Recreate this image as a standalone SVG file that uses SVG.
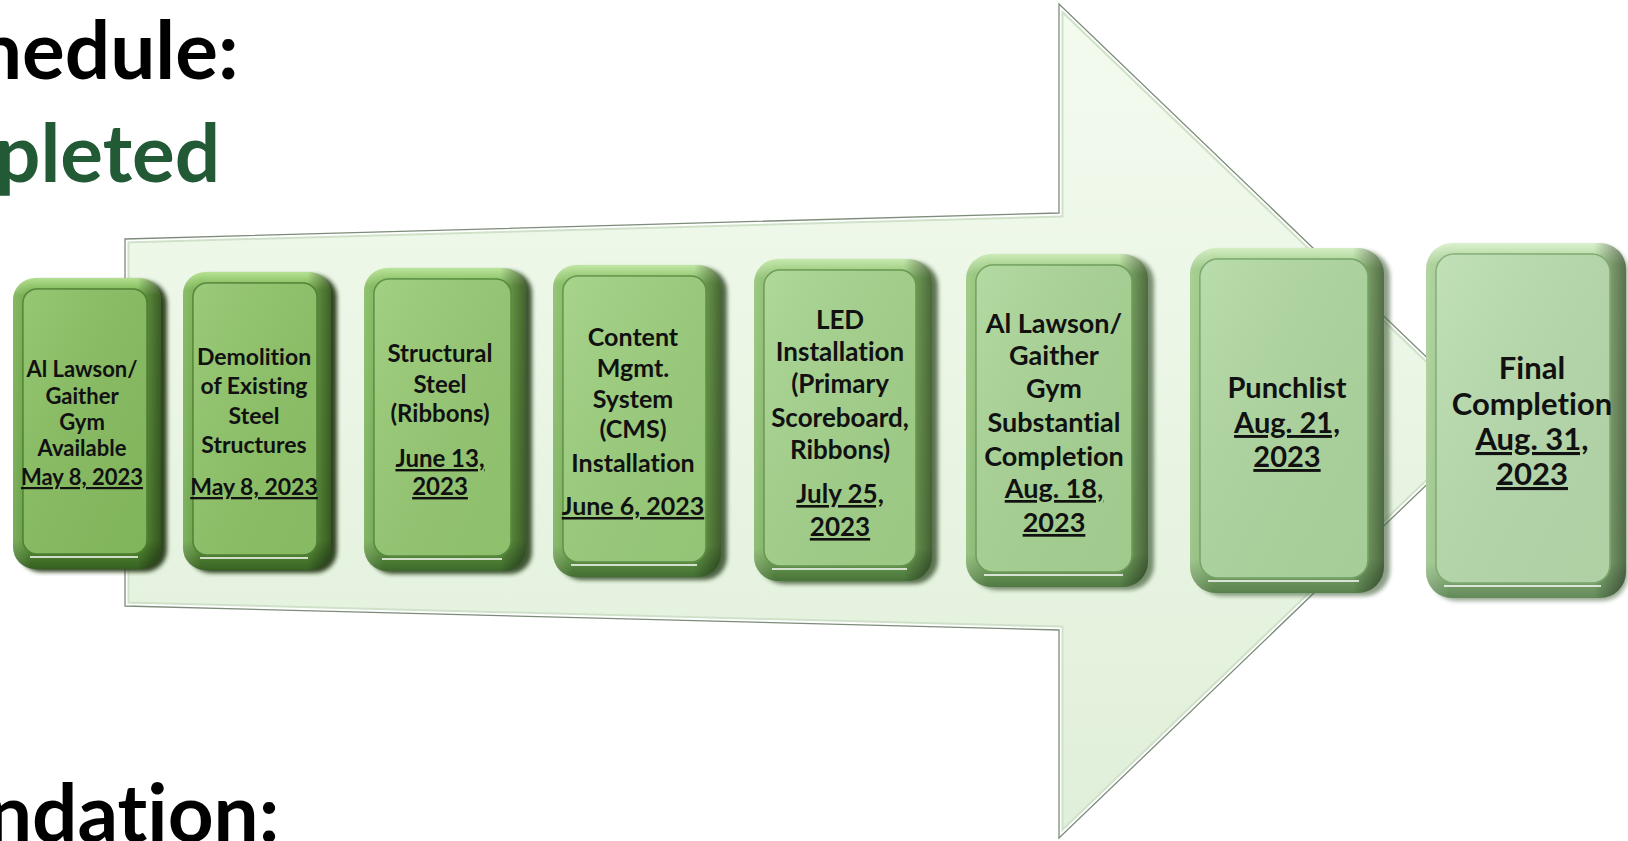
<svg xmlns="http://www.w3.org/2000/svg" width="1628" height="841" viewBox="0 0 1628 841">
<style>
text{font-variant-ligatures:none;font-feature-settings:"liga" 0,"clig" 0,"dlig" 0}
.title{font-family:Lato,"Liberation Sans",sans-serif;font-weight:700;font-size:80px}
.t{font-family:Lato,"Liberation Sans",sans-serif;font-weight:700;fill:#111;text-anchor:middle}
.u{text-decoration:underline}
.shade{fill:url(#shadeH)}
.hl{fill:none;stroke:#ffffff;stroke-opacity:.75;stroke-width:2}
</style>
<defs>
<linearGradient id="arrowFill" x1="0" y1="0" x2="0" y2="1">
<stop offset="0" stop-color="#f3fbef"/><stop offset="1" stop-color="#e0efd9"/>
</linearGradient>
<linearGradient id="shadeH" x1="0" y1="0" x2="1" y2="0">
<stop offset="0" stop-color="#ffffff" stop-opacity=".18"/><stop offset=".12" stop-color="#ffffff" stop-opacity="0"/><stop offset=".84" stop-color="#000000" stop-opacity="0"/><stop offset="1" stop-color="#000000" stop-opacity=".45"/>
</linearGradient>
<linearGradient id="faceShade" x1="0" y1="0" x2="1" y2="1">
<stop offset="0" stop-color="#ffffff" stop-opacity=".12"/><stop offset="1" stop-color="#000000" stop-opacity=".05"/>
</linearGradient>
<linearGradient id="r1" x1="0" y1="0" x2="0" y2="1"><stop offset="0" stop-color="#b3e08f"/><stop offset=".06" stop-color="#6ea946"/><stop offset=".9" stop-color="#5f9b3a"/><stop offset="1" stop-color="#355f20"/></linearGradient>
<linearGradient id="r2" x1="0" y1="0" x2="0" y2="1"><stop offset="0" stop-color="#b6e293"/><stop offset=".06" stop-color="#73ae4b"/><stop offset=".9" stop-color="#64a03f"/><stop offset="1" stop-color="#386224"/></linearGradient>
<linearGradient id="r3" x1="0" y1="0" x2="0" y2="1"><stop offset="0" stop-color="#bbe59b"/><stop offset=".06" stop-color="#7ab453"/><stop offset=".9" stop-color="#6ba548"/><stop offset="1" stop-color="#3d682a"/></linearGradient>
<linearGradient id="r4" x1="0" y1="0" x2="0" y2="1"><stop offset="0" stop-color="#c0e7a3"/><stop offset=".06" stop-color="#80b95c"/><stop offset=".9" stop-color="#72aa50"/><stop offset="1" stop-color="#436e31"/></linearGradient>
<linearGradient id="r5" x1="0" y1="0" x2="0" y2="1"><stop offset="0" stop-color="#c6e9ae"/><stop offset=".06" stop-color="#88bd68"/><stop offset=".9" stop-color="#7aaf5d"/><stop offset="1" stop-color="#4a7439"/></linearGradient>
<linearGradient id="r6" x1="0" y1="0" x2="0" y2="1"><stop offset="0" stop-color="#cdebb8"/><stop offset=".06" stop-color="#8fc173"/><stop offset=".9" stop-color="#82b468"/><stop offset="1" stop-color="#517a43"/></linearGradient>
<linearGradient id="r7" x1="0" y1="0" x2="0" y2="1"><stop offset="0" stop-color="#d3eec3"/><stop offset=".06" stop-color="#98c680"/><stop offset=".9" stop-color="#8aba75"/><stop offset="1" stop-color="#5a814d"/></linearGradient>
<linearGradient id="r8" x1="0" y1="0" x2="0" y2="1"><stop offset="0" stop-color="#dbf1cf"/><stop offset=".06" stop-color="#a3cc8e"/><stop offset=".9" stop-color="#93bf82"/><stop offset="1" stop-color="#638959"/></linearGradient>
<filter id="blur" x="-10%" y="-10%" width="120%" height="120%"><feGaussianBlur stdDeviation="2.2"/></filter>
<clipPath id="arrowClip"><polygon points="125,239 1059,213 1059,4 1493,421 1059,838 1059,630 125,606"/></clipPath>
</defs>

<g id="background-text">
<text class="title" x="-23" y="79" fill="#000">hedule:</text>
<text class="title" x="-5" y="182" fill="#225a36">pleted</text>
<text class="title" x="-13" y="842" fill="#000">ndation:</text>
</g>

<g id="connectors">
<polygon points="125,239 1059,213 1059,4 1493,421 1059,838 1059,630 125,606" fill="url(#arrowFill)"/>
<g clip-path="url(#arrowClip)" fill="none">
<polygon points="125,239 1059,213 1059,4 1493,421 1059,838 1059,630 125,606" stroke="#cfe2c9" stroke-width="9"/>
<polygon points="125,239 1059,213 1059,4 1493,421 1059,838 1059,630 125,606" stroke="#ffffff" stroke-width="5"/>
</g>
<polygon points="125,239 1059,213 1059,4 1493,421 1059,838 1059,630 125,606" fill="none" stroke="#7d8c7a" stroke-width="1.3"/>
</g>

<g id="n1">
<rect x="19" y="281" width="148" height="291" rx="22" fill="#1c3310" opacity=".9" filter="url(#blur)"/>
<rect x="13" y="278" width="148" height="291" rx="22" fill="url(#r1)"/>
<rect x="13" y="278" width="148" height="291" rx="22" class="shade"/>
<rect x="23" y="289" width="124" height="265" rx="14" fill="#88bf60" stroke="#4d7f31" stroke-width="1.5"/>
<rect x="23" y="289" width="124" height="265" rx="14" fill="url(#faceShade)"/>
<path class="hl" d="M30,557 H138"/>
<text class="t" font-size="22"><tspan x="82" y="377">Al Lawson/</tspan><tspan x="82" y="404">Gaither</tspan><tspan x="82" y="430">Gym</tspan><tspan x="82" y="456">Available</tspan><tspan x="82" y="485" class="u">May 8, 2023</tspan></text>
</g>

<g id="n2">
<rect x="189" y="275" width="148" height="298" rx="22" fill="#1c3310" opacity=".9" filter="url(#blur)"/>
<rect x="183" y="272" width="148" height="298" rx="22" fill="url(#r2)"/>
<rect x="183" y="272" width="148" height="298" rx="22" class="shade"/>
<rect x="193" y="283" width="124" height="272" rx="14" fill="#8ec467" stroke="#517f35" stroke-width="1.5"/>
<rect x="193" y="283" width="124" height="272" rx="14" fill="url(#faceShade)"/>
<path class="hl" d="M200,558 H308"/>
<text class="t" font-size="23"><tspan x="254" y="365">Demolition</tspan><tspan x="254" y="394">of Existing</tspan><tspan x="254" y="424">Steel</tspan><tspan x="254" y="453">Structures</tspan><tspan x="254" y="495" class="u">May 8, 2023</tspan></text>
</g>

<g id="n3">
<rect x="370" y="271" width="162" height="303" rx="22" fill="#203a14" opacity=".85" filter="url(#blur)"/>
<rect x="364" y="268" width="162" height="303" rx="23" fill="url(#r3)"/>
<rect x="364" y="268" width="162" height="303" rx="23" class="shade"/>
<rect x="374" y="279" width="137" height="277" rx="15" fill="#96ca72" stroke="#578a3d" stroke-width="1.5"/>
<rect x="374" y="279" width="137" height="277" rx="15" fill="url(#faceShade)"/>
<path class="hl" d="M382,559 H502"/>
<text class="t" font-size="24"><tspan x="440" y="362">Structural</tspan><tspan x="440" y="393">Steel</tspan><tspan x="440" y="422">(Ribbons)</tspan><tspan x="440" y="467" class="u">June 13,</tspan><tspan x="440" y="495" class="u">2023</tspan></text>
</g>

<g id="n4">
<rect x="559" y="268" width="168" height="312" rx="23" fill="#25401a" opacity=".8" filter="url(#blur)"/>
<rect x="553" y="265" width="168" height="312" rx="23" fill="url(#r4)"/>
<rect x="553" y="265" width="168" height="312" rx="23" class="shade"/>
<rect x="563" y="276" width="143" height="286" rx="15" fill="#9ccf7c" stroke="#5e9045" stroke-width="1.5"/>
<rect x="563" y="276" width="143" height="286" rx="15" fill="url(#faceShade)"/>
<path class="hl" d="M571,565 H697"/>
<text class="t" font-size="25"><tspan x="633" y="346">Content</tspan><tspan x="633" y="377">Mgmt.</tspan><tspan x="633" y="408">System</tspan><tspan x="633" y="438">(CMS)</tspan><tspan x="633" y="472">Installation</tspan><tspan x="633" y="515" class="u">June 6, 2023</tspan></text>
</g>

<g id="n5">
<rect x="760" y="262" width="178" height="322" rx="24" fill="#2e4a22" opacity=".75" filter="url(#blur)"/>
<rect x="754" y="259" width="178" height="322" rx="24" fill="url(#r5)"/>
<rect x="754" y="259" width="178" height="322" rx="24" class="shade"/>
<rect x="764" y="270" width="152" height="296" rx="16" fill="#a4d38b" stroke="#66974f" stroke-width="1.5"/>
<rect x="764" y="270" width="152" height="296" rx="16" fill="url(#faceShade)"/>
<path class="hl" d="M772,569 H907"/>
<text class="t" font-size="26"><tspan x="840" y="329">LED</tspan><tspan x="840" y="361">Installation</tspan><tspan x="840" y="393">(Primary</tspan><tspan x="840" y="427">Scoreboard,</tspan><tspan x="840" y="459">Ribbons)</tspan><tspan x="840" y="503" class="u">July 25,</tspan><tspan x="840" y="536" class="u">2023</tspan></text>
</g>

<g id="n6">
<rect x="972" y="257" width="182" height="333" rx="25" fill="#3a5630" opacity=".65" filter="url(#blur)"/>
<rect x="966" y="254" width="182" height="333" rx="25" fill="url(#r6)"/>
<rect x="966" y="254" width="182" height="333" rx="25" class="shade"/>
<rect x="976" y="265" width="156" height="307" rx="17" fill="#a9d595" stroke="#6e9d5b" stroke-width="1.5"/>
<rect x="976" y="265" width="156" height="307" rx="17" fill="url(#faceShade)"/>
<path class="hl" d="M984,575 H1123"/>
<text class="t" font-size="27"><tspan x="1054" y="333">Al Lawson/</tspan><tspan x="1054" y="365">Gaither</tspan><tspan x="1054" y="398">Gym</tspan><tspan x="1054" y="432">Substantial</tspan><tspan x="1054" y="466">Completion</tspan><tspan x="1054" y="498" class="u">Aug. 18,</tspan><tspan x="1054" y="532" class="u">2023</tspan></text>
</g>

<g id="n7">
<rect x="1196" y="251" width="194" height="345" rx="26" fill="#43603a" opacity=".6" filter="url(#blur)"/>
<rect x="1190" y="248" width="194" height="345" rx="26" fill="url(#r7)"/>
<rect x="1190" y="248" width="194" height="345" rx="26" class="shade"/>
<rect x="1200" y="259" width="168" height="319" rx="18" fill="#afd8a0" stroke="#76a466" stroke-width="1.5"/>
<rect x="1200" y="259" width="168" height="319" rx="18" fill="url(#faceShade)"/>
<path class="hl" d="M1208,581 H1359"/>
<text class="t" font-size="29"><tspan x="1287" y="398">Punchlist</tspan><tspan x="1287" y="433" class="u">Aug. 21,</tspan><tspan x="1287" y="467" class="u">2023</tspan></text>
</g>

<g id="n8">
<rect x="1431" y="246" width="197" height="355" rx="26" fill="#4a6742" opacity=".55" filter="url(#blur)"/>
<rect x="1426" y="243" width="200" height="355" rx="26" fill="url(#r8)"/>
<rect x="1426" y="243" width="200" height="355" rx="26" class="shade"/>
<rect x="1436" y="254" width="174" height="329" rx="18" fill="#b8dcad" stroke="#7fab72" stroke-width="1.5"/>
<rect x="1436" y="254" width="174" height="329" rx="18" fill="url(#faceShade)"/>
<path class="hl" d="M1444,586 H1601"/>
<text class="t" font-size="31"><tspan x="1532" y="379">Final</tspan><tspan x="1532" y="415">Completion</tspan><tspan x="1532" y="450" class="u">Aug. 31,</tspan><tspan x="1532" y="485" class="u">2023</tspan></text>
</g>
</svg>
